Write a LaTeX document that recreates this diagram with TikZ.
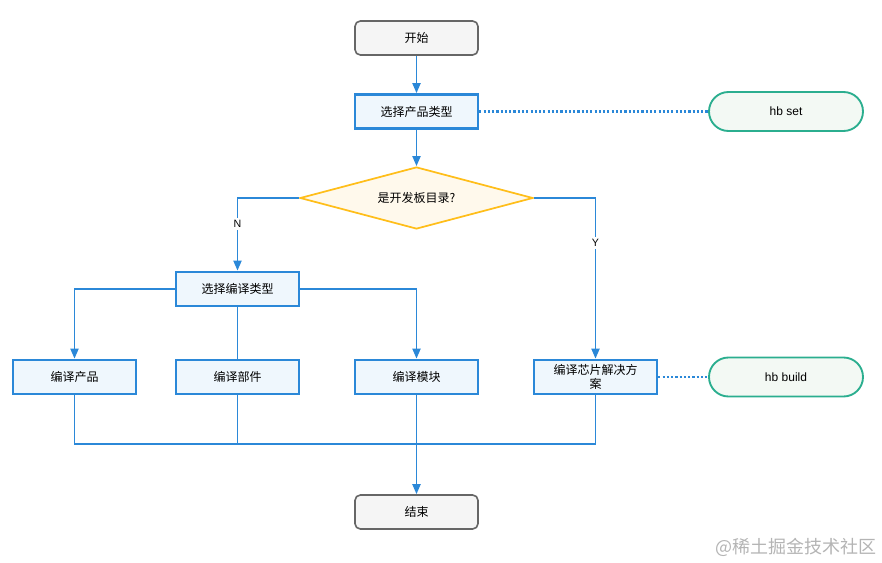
\documentclass[tikz,border=0pt]{standalone}
\usepackage{fontspec}
\setmainfont{Liberation Sans}
\newfontfamily\cjk{Noto Sans CJK SC}
\usetikzlibrary{shapes.geometric,arrows.meta}
\definecolor{lineblue}{HTML}{2B88D8}
\definecolor{boxfill}{HTML}{EFF7FD}
\definecolor{grayfill}{HTML}{F5F5F5}
\definecolor{graydraw}{HTML}{666666}
\definecolor{dfill}{HTML}{FFF9EC}
\definecolor{ddraw}{HTML}{FFBE1A}
\definecolor{tfill}{HTML}{F3F9F4}
\definecolor{tdraw}{HTML}{2BAE8F}
\definecolor{wmark}{HTML}{B4B4B4}
\tikzset{
  term/.style={rectangle, rounded corners=4pt, draw=graydraw, fill=grayfill, line width=1.2pt,
    minimum width=92.25pt, minimum height=25.5pt, inner sep=0pt, font=\cjk\fontsize{9}{11}\selectfont},
  proc/.style={rectangle, draw=lineblue, fill=boxfill, line width=2pt,
    minimum width=92.25pt, minimum height=25.5pt, inner sep=0pt, align=center,
    font=\cjk\fontsize{9}{10.5}\selectfont},
  dec/.style={diamond, draw=ddraw, fill=dfill, line width=1.3pt, aspect=3.76,
    minimum width=174.75pt, minimum height=46.5pt, inner sep=0pt, font=\cjk\fontsize{9}{11}\selectfont},
  cmd/.style={rectangle, rounded corners=14.6pt, draw=tdraw, fill=tfill, line width=1.4pt,
    minimum width=115.5pt, minimum height=29.25pt, inner sep=0pt, font=\fontsize{9}{11}\selectfont},
  conn/.style={draw=lineblue, line width=1.4pt},
  arr/.style={conn, -{Triangle[length=7.5pt,width=6pt]}},
  dotline/.style={draw=lineblue, line width=1.8pt, dash pattern=on 1.6pt off 1.6pt},
  lbl/.style={fill=white, inner sep=1.5pt, font=\fontsize{8}{10}\selectfont},
}
\begin{document}
\begin{tikzpicture}[x=0.75pt,y=-0.75pt]
\useasboundingbox (0,0) rectangle (882,563);
\node[term] (start) at (416.5,38) {开始};
\node[proc] (sel) at (416.5,111.5) {选择产品类型};
\node[cmd] (hbset) at (786,111.5) {hb set};
\node[dec] (dec) at (416.5,198) {是开发板目录?};
\node[proc] (ctype) at (237.5,289) {选择编译类型};
\node[proc] (prod) at (74.5,377) {编译产品};
\node[proc] (part) at (237.5,377) {编译部件};
\node[proc] (mod) at (416.5,377) {编译模块};
\node[proc] (chip) at (595.5,377) {编译芯片解决方\\案};
\node[cmd] (hbbuild) at (786,377) {hb build};
\node[term] (end) at (416.5,512) {结束};
\coordinate (m) at (416.5,444);

\draw[arr] (start) -- (sel);
\draw[arr] (sel) -- (dec);
\draw[dotline] (sel.east) -- (hbset.west);
\draw[arr] (dec.west) -| node[lbl, pos=0.68]{N} (ctype.north);
\draw[arr] (dec.east) -| node[lbl, pos=0.64]{Y} (chip.north);
\draw[arr] (ctype.west) -| (prod.north);
\draw[conn] (ctype.south) -- (part.north);
\draw[arr] (ctype.east) -| (mod.north);
\draw[conn] (prod.south) |- (m);
\draw[conn] (part.south) |- (m);
\draw[conn] (chip.south) |- (m);
\draw[arr] (mod.south) -- (end.north);
\draw[dotline] (chip.east) -- (hbbuild.west);

\node[text=wmark, font=\cjk\fontsize{13.5}{15}\selectfont, inner sep=0pt] (wm) at (796,547) {@稀土掘金技术社区};
\end{tikzpicture}
\end{document}
